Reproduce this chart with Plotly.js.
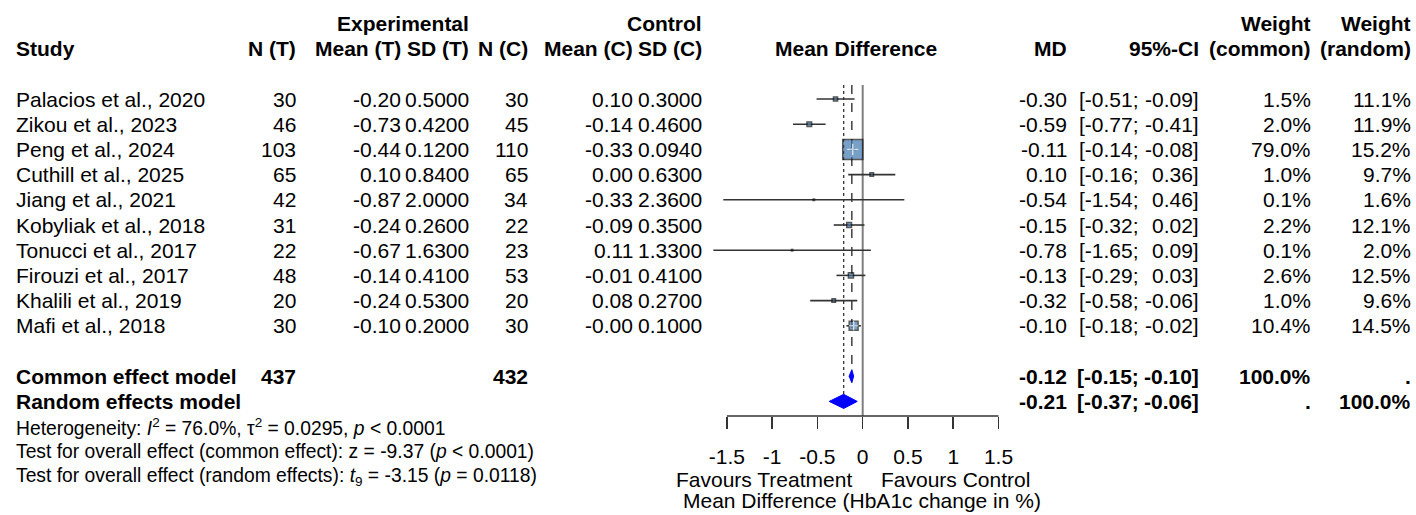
<!DOCTYPE html>
<html><head><meta charset="utf-8">
<script src="https://cdn.plot.ly/plotly-3.0.1.min.js"></script>
<style>html,body{margin:0;padding:0;background:#fff}#chart{width:1416px;height:515px}</style>
</head><body><div id="chart"></div>
<script>
// ---------------- data ----------------
const studies = ["Palacios et al., 2020","Zikou et al., 2023","Peng et al., 2024","Cuthill et al., 2025","Jiang et al., 2021","Kobyliak et al., 2018","Tonucci et al., 2017","Firouzi et al., 2017","Khalili et al., 2019","Mafi et al., 2018"];
const nT    = [30, 46, 103, 65, 42, 31, 22, 48, 20, 30];
const meanT = [-0.20, -0.73, -0.44, 0.10, -0.87, -0.24, -0.67, -0.14, -0.24, -0.10];
const sdT   = [0.5000, 0.4200, 0.1200, 0.8400, 2.0000, 0.2600, 1.6300, 0.4100, 0.5300, 0.2000];
const nC    = [30, 45, 110, 65, 34, 22, 23, 53, 20, 30];
const meanC = [0.10, -0.14, -0.33, 0.00, -0.33, -0.09, 0.11, -0.01, 0.08, -0.00];
const sdC   = [0.3000, 0.4600, 0.0940, 0.6300, 2.3600, 0.3500, 1.3300, 0.4100, 0.2700, 0.1000];
const md    = [-0.30, -0.59, -0.11, 0.10, -0.54, -0.15, -0.78, -0.13, -0.32, -0.10];
const ciLo  = [-0.51, -0.77, -0.14, -0.16, -1.54, -0.32, -1.65, -0.29, -0.58, -0.18];
const ciHi  = [-0.09, -0.41, -0.08, 0.36, 0.46, 0.02, 0.09, 0.03, -0.06, -0.02];
const wCommon = [1.5, 2.0, 79.0, 1.0, 0.1, 2.2, 0.1, 2.6, 1.0, 10.4];
const wRandom = [11.1, 11.9, 15.2, 9.7, 1.6, 12.1, 2.0, 12.5, 9.6, 14.5];

const modelNames = ["Common effect model", "Random effects model"];
const modelMD = [-0.12, -0.21];
const modelLo = [-0.15, -0.37];
const modelHi = [-0.10, -0.06];
const modelWCommon = ["100.0%", "."];
const modelWRandom = [".", "100.0%"];
const totalT = 437, totalC = 432;

const tickVals = [-1.5, -1, -0.5, 0, 0.5, 1, 1.5];
const tickLabels = ["-1.5", "-1", "-0.5", "0", "0.5", "1", "1.5"];

const footer = [
  "Heterogeneity: <i>I</i><sup>2</sup> = 76.0%, τ<sup>2</sup> = 0.0295, <i>p</i> &lt; 0.0001",
  "Test for overall effect (common effect): z = -9.37 (<i>p</i> &lt; 0.0001)",
  "Test for overall effect (random effects): <i>t</i><sub>9</sub> = -3.15 (<i>p</i> = 0.0118)"
];

// ---------------- layout helpers ----------------
const W = 1416, H = 515;
const FONT = "Liberation Sans, Arial, Helvetica, sans-serif";
const FS = 21, FS_FOOT = 19.3;
const px = p => p / W;
function f2(v){ const s = Math.abs(v).toFixed(2); return ((v < 0 || Object.is(v, -0)) ? "-" : "") + s; }
function f4(v){ return v.toFixed(4); }

const rowK = studies.map((_, i) => i + 1);
const kModel = [12, 13];
const kHead1 = -2, kHead2 = -1;
const kFoot = [14, 15, 16];
const kTop = 0.44, kAxis = 13.58;
const diamondH = [0.26, 0.28];

const annotations = [];
function ann(text, xp, k, anchor, size, extra) {
  annotations.push(Object.assign({
    text: text, x: px(xp), xref: "paper", y: k, yref: "y",
    xanchor: anchor, yanchor: "middle", showarrow: false,
    font: {family: FONT, size: size || FS, color: "#000"}
  }, extra || {}));
}

// column right edges (pixels)
const COL = {study: 14, nT: 298, meanT: 403, sdT: 471, nC: 530, meanC: 635, sdC: 704,
             mdHead: 856, md: 1069, ciL: 1141, ciR: 1201, wC: 1313, wR: 1413};

// headers
ann("<b>Experimental</b>", COL.sdT, kHead1, "right");
ann("<b>Control</b>", COL.sdC, kHead1, "right");
ann("<b>Weight</b>", COL.wC, kHead1, "right");
ann("<b>Weight</b>", COL.wR, kHead1, "right");
ann("<b>Study</b>", COL.study, kHead2, "left");
ann("<b>N (T)</b>", COL.nT, kHead2, "right");
ann("<b>Mean (T)</b>", COL.meanT, kHead2, "right");
ann("<b>SD (T)</b>", COL.sdT, kHead2, "right");
ann("<b>N (C)</b>", COL.nC, kHead2, "right");
ann("<b>Mean (C)</b>", COL.meanC, kHead2, "right");
ann("<b>SD (C)</b>", COL.sdC, kHead2, "right");
ann("<b>Mean Difference</b>", COL.mdHead, kHead2, "center");
ann("<b>MD</b>", COL.md, kHead2, "right");
ann("<b>95%-CI</b>", COL.ciR, kHead2, "right");
ann("<b>(common)</b>", COL.wC, kHead2, "right");
ann("<b>(random)</b>", COL.wR, kHead2, "right");

// study rows
studies.forEach((s, i) => {
  const k = rowK[i];
  ann(s, COL.study, k, "left");
  ann(String(nT[i]), COL.nT, k, "right");
  ann(f2(meanT[i]), COL.meanT, k, "right");
  ann(f4(sdT[i]), COL.sdT, k, "right");
  ann(String(nC[i]), COL.nC, k, "right");
  ann(f2(meanC[i]), COL.meanC, k, "right");
  ann(f4(sdC[i]), COL.sdC, k, "right");
  ann(f2(md[i]), COL.md, k, "right");
  ann("[" + f2(ciLo[i]) + ";", COL.ciL, k, "right");
  ann(f2(ciHi[i]) + "]", COL.ciR, k, "right");
  ann(wCommon[i].toFixed(1) + "%", COL.wC, k, "right");
  ann(wRandom[i].toFixed(1) + "%", COL.wR, k, "right");
});

// model rows
modelNames.forEach((m, j) => {
  const k = kModel[j];
  ann("<b>" + m + "</b>", COL.study, k, "left");
  ann("<b>" + f2(modelMD[j]) + "</b>", COL.md, k, "right");
  ann("<b>[" + f2(modelLo[j]) + ";</b>", COL.ciL, k, "right");
  ann("<b>" + f2(modelHi[j]) + "]</b>", COL.ciR, k, "right");
  ann("<b>" + modelWCommon[j] + "</b>", COL.wC, k, "right");
  ann("<b>" + modelWRandom[j] + "</b>", COL.wR, k, "right");
});
ann("<b>" + totalT + "</b>", COL.nT, kModel[0], "right");
ann("<b>" + totalC + "</b>", COL.nC, kModel[0], "right");

// footer
footer.forEach((t, i) => ann(t, COL.study, kFoot[i], "left", FS_FOOT));

// axis labels under the plot
ann("Favours Treatment", 854, 16.08, "right");
ann("Favours Control", 879, 16.08, "left");
ann("Mean Difference (HbA1c change in %)", 862, 16.95, "center");

// ---------------- traces ----------------
const traces = [];
const LC = "#333333";
// reference line at 0
traces.push({x: [0, 0], y: [kTop, kAxis], mode: "lines", line: {color: "#7f7f7f", width: 2}, hoverinfo: "skip"});
// common effect (dashed) and random effects (dotted)
traces.push({x: [modelMD[0], modelMD[0]], y: [kTop, kModel[0] - diamondH[0]], mode: "lines", line: {color: LC, width: 1.4, dash: "dash"}, hoverinfo: "skip"});
traces.push({x: [modelMD[1], modelMD[1]], y: [kTop, kModel[1] - diamondH[1]], mode: "lines", line: {color: LC, width: 1.3, dash: "dot"}, hoverinfo: "skip"});
// CI lines
const cx = [], cy = [];
studies.forEach((_, i) => { cx.push(ciLo[i], ciHi[i], null); cy.push(rowK[i], rowK[i], null); });
traces.push({x: cx, y: cy, mode: "lines", line: {color: LC, width: 1.6}, hoverinfo: "skip"});
// squares (size grows with common weight)
const maxW = Math.max(...wCommon);
const sizes = wCommon.map(w => Math.max(1, 20 * Math.pow(w / maxW, 0.4)));
traces.push({x: md, y: rowK, mode: "markers", cliponaxis: false,
  marker: {symbol: "square", size: sizes, color: "#3f78b0", line: {color: "#111111", width: 1.5}}, hoverinfo: "skip"});
// white inner cross for big boxes
const bx = [], by = [], bs = [];
sizes.forEach((s, i) => { if (s > 6) { bx.push(md[i]); by.push(rowK[i]); bs.push(Math.min(s - 2, 8)); } });
traces.push({x: bx, y: by, mode: "markers", marker: {symbol: "cross-thin", size: bs, line: {color: "#ffffff", width: 1.4}}, hoverinfo: "skip"});
// diamonds
modelNames.forEach((_, j) => {
  const k = kModel[j], h = diamondH[j];
  traces.push({x: [modelLo[j], modelMD[j], modelHi[j], modelMD[j], modelLo[j]],
    y: [k, k - h, k, k + h, k], mode: "lines", fill: "toself", fillcolor: "#0000ff",
    line: {color: "#0000ff", width: 1}, hoverinfo: "skip"});
});
// axis line from -1.5 to 1.5
traces.push({x: [tickVals[0], tickVals[tickVals.length - 1]], y: [kAxis, kAxis], mode: "lines", line: {color: LC, width: 1.5}, hoverinfo: "skip"});

const layout = {
  width: W, height: H,
  margin: {l: 0, r: 0, t: 0, b: 0, pad: 0},
  paper_bgcolor: "#ffffff", plot_bgcolor: "rgba(0,0,0,0)",
  showlegend: false,
  font: {family: FONT, size: FS, color: "#000"},
  xaxis: {
    domain: [px(862.7 - 1.8 * 90.53), px(862.7 + 1.8 * 90.53)],
    range: [-1.8, 1.8], anchor: "free", position: 1 - 416 / H,
    showline: false, showgrid: false, zeroline: false,
    ticks: "outside", ticklen: 12, tickwidth: 1.5, tickcolor: LC,
    tickvals: tickVals, ticktext: tickLabels, ticklabelstandoff: 10,
    tickfont: {family: FONT, size: FS, color: "#000"}, fixedrange: true
  },
  yaxis: {domain: [0, 1], range: [17.508, -2.929], visible: false, showgrid: false, zeroline: false, fixedrange: true},
  annotations: annotations
};

Plotly.newPlot("chart", traces, layout, {displayModeBar: false, staticPlot: true});
</script>
</body></html>
